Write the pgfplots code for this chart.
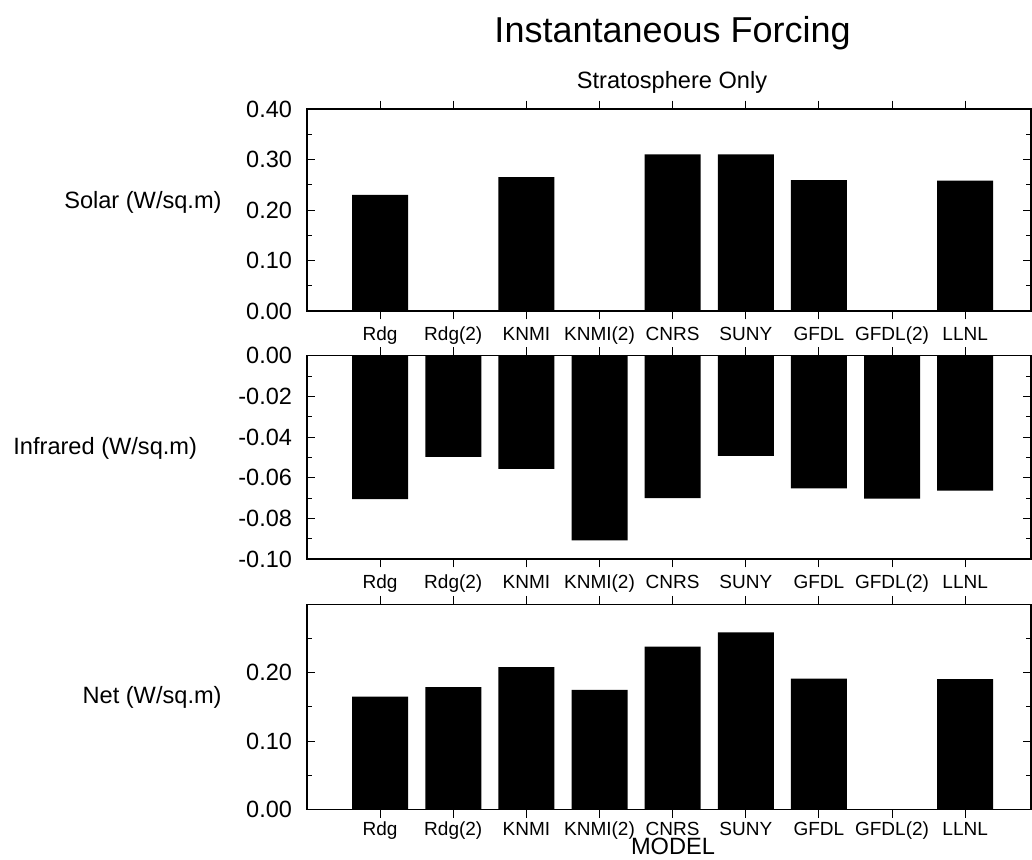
\documentclass[border=0pt]{standalone}
\usepackage{fontspec}
\setmainfont{Liberation Sans}
\usepackage{pgfplots}
\pgfplotsset{compat=1.18}
\begin{document}
\begin{tikzpicture}
\useasboundingbox (0,0) rectangle (516pt,-429.5pt);
\pgfplotsset{
  panel/.style={
    scale only axis,
    width=362pt,
    xmin=0, xmax=9.9,
    xtick={1,...,9},
    xticklabels={Rdg,Rdg(2),KNMI,KNMI(2),CNRS,SUNY,GFDL,GFDL(2),LLNL},
    xtick pos=both, ytick pos=both,
    xticklabel pos=lower, yticklabel pos=left,
    tick align=inside,
    major tick length=4.2pt,
    minor tick length=2.3pt,
    axis line style={line width=0.6pt},
    every tick/.style={line width=0.5pt, black},
    x tick label style={font=\fontsize{9.5}{11}\selectfont, anchor=base, inner sep=0pt, yshift=-10.5pt},
    y tick label style={font=\fontsize{11.75}{14}\selectfont, xshift=-4pt},
    /pgf/number format/assume math mode=true,
    /pgf/number format/.cd, fixed, fixed zerofill, precision=2,
    /pgfplots/.cd,
    ybar, bar width=28pt,
    clip=false,
  },
}
% Solar
\begin{axis}[panel, at={(153.5pt,-54.5pt)}, anchor=north west,
  height=101pt, ymin=0, ymax=0.4,
  ytick={0,0.1,0.2,0.3,0.4}, minor ytick={0.05,0.15,0.25,0.35}]
\addplot[fill=black, draw=none] coordinates {(1,0.23) (3,0.265) (5,0.31) (6,0.31) (7,0.259) (9,0.258)};
\end{axis}
% Infrared
\begin{axis}[panel, at={(153.5pt,-177.85pt)}, anchor=north west,
  height=101.65pt, ymin=-0.1, ymax=0,
  ytick={-0.1,-0.08,-0.06,-0.04,-0.02,0}, minor ytick={-0.09,-0.07,-0.05,-0.03,-0.01}]
\addplot[fill=black, draw=none] coordinates {(1,-0.0706) (2,-0.0497) (3,-0.0556) (4,-0.0908) (5,-0.0701) (6,-0.0493) (7,-0.0652) (8,-0.0703) (9,-0.0664)};
\end{axis}
% Net
\begin{axis}[panel, at={(153.5pt,-302.15pt)}, anchor=north west,
  height=102.6pt, ymin=0, ymax=0.3,
  ytick={0,0.1,0.2}, minor ytick={0.05,0.15,0.25},
  x tick label style={yshift=1.5pt}]
\addplot[fill=black, draw=none] coordinates {(1,0.165) (2,0.179) (3,0.208) (4,0.175) (5,0.238) (6,0.259) (7,0.1915) (9,0.1906)};
\end{axis}
\node[anchor=base, font=\fontsize{18}{21}\selectfont, inner sep=0] at (336.3pt,-21pt) {Instantaneous Forcing};
\node[anchor=base, font=\fontsize{11.8}{14}\selectfont, inner sep=0] at (336pt,-44pt) {Stratosphere Only};
\node[anchor=base, font=\fontsize{11.8}{14}\selectfont, inner sep=0] at (336.5pt,-427pt) {MODEL};
\node[anchor=east, font=\fontsize{11.8}{14}\selectfont, inner sep=0] at (111pt,-101pt) {Solar (W/sq.m)};
\node[anchor=west, font=\fontsize{11.8}{14}\selectfont, inner sep=0] at (6.5pt,-224pt) {Infrared (W/sq.m)};
\node[anchor=east, font=\fontsize{11.8}{14}\selectfont, inner sep=0] at (111pt,-348.5pt) {Net (W/sq.m)};
\end{tikzpicture}
\end{document}
